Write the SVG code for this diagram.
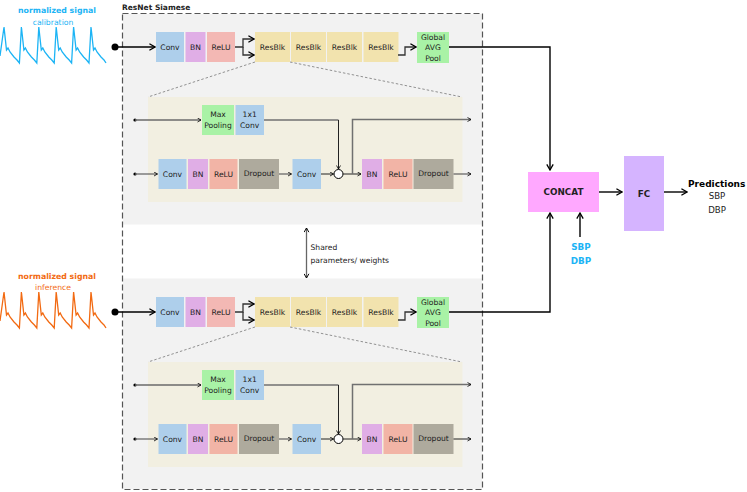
<svg xmlns="http://www.w3.org/2000/svg" width="747" height="492" viewBox="0 0 747 492">
<style>
text{font-family:"DejaVu Sans","Liberation Sans",sans-serif;fill:#222}
.lb{font-size:7.6px;text-anchor:middle}
.b{font-weight:bold}
.conv{fill:#aecfeb}
.bn{fill:#e0aee6}
.relu{fill:#f3b8b4}
.relu2{fill:#f2b4a6}
.res{fill:#f2e3ae}
.grn{fill:#a9f2a6}
.drop{fill:#aeaa9d}
.k{fill:none;stroke:#000;stroke-width:1.4}
.g{fill:none;stroke:#707070;stroke-width:1.5}
.s{fill:none;stroke:#222;stroke-width:1}
.sg{fill:none;stroke:#6a6a6a;stroke-width:1.3}
.dash{fill:none;stroke:#777;stroke-width:0.8;stroke-dasharray:2.5,2}
</style>
<defs>
<marker id="big" viewBox="0 0 10 10" refX="9" refY="5" markerWidth="8" markerHeight="8" markerUnits="userSpaceOnUse" orient="auto">
<path d="M2,1 L9,5 L2,9" fill="none" stroke="#000" stroke-width="1.6"/>
</marker>
<marker id="sm" viewBox="0 0 10 10" refX="9" refY="5" markerWidth="5" markerHeight="5" markerUnits="userSpaceOnUse" orient="auto">
<path d="M2,1 L9,5 L2,9" fill="none" stroke="#000" stroke-width="1.6"/>
</marker>
<marker id="mid" viewBox="0 0 10 10" refX="9" refY="5" markerWidth="6" markerHeight="6" markerUnits="userSpaceOnUse" orient="auto">
<path d="M2,1 L9,5 L2,9" fill="none" stroke="#000" stroke-width="1.6"/>
</marker>
<marker id="mids" viewBox="0 0 10 10" refX="1" refY="5" markerWidth="6" markerHeight="6" markerUnits="userSpaceOnUse" orient="auto">
<path d="M8,1 L1,5 L8,9" fill="none" stroke="#000" stroke-width="1.6"/>
</marker>
<path id="wave" d="M0,56 L4,27 L6.5,50 L8,48 L10,52 L14,57 L17,60 L19.4,63 L21.4,27 L23.9,50 L25.4,48 L27.4,52 L31.4,57 L34.4,60 L36.8,63 L38.8,27 L41.3,50 L42.8,48 L44.8,52 L48.8,57 L51.8,60 L54.2,63 L56.2,27 L58.7,50 L60.2,48 L62.2,52 L66.2,57 L69.2,60 L71.6,63 L73.6,27 L76.1,50 L77.6,48 L79.6,52 L83.6,57 L86.6,60 L89,63 L91,27 L93.5,50 L95,48 L97,52 L101,57 L104,60 L106,63"/>
</defs>

<g id="siamese-frame">
<rect x="123" y="14" width="359" height="210.5" fill="#f2f2f2"/>
<rect x="123" y="278.5" width="359" height="210.5" fill="#f2f2f2"/>
<rect x="122.5" y="13.5" width="360" height="476" fill="none" stroke="#555" stroke-width="1.2" stroke-dasharray="6,3"/>
<text x="122" y="10" class="b" style="font-size:7.5px">ResNet Siamese</text>
</g>

<g id="signal-calibration">
<text x="57" y="13" class="b" style="font-size:7.8px;text-anchor:middle;fill:#1cb4f5">normalized signal</text>
<text x="53" y="24.5" style="font-size:7.7px;text-anchor:middle;fill:#1cb4f5">calibration</text>
<use href="#wave" fill="none" stroke="#1cb4f5" stroke-width="1.3"/>
</g>
<g id="signal-inference">
<text x="57" y="278.5" class="b" style="font-size:7.8px;text-anchor:middle;fill:#f26a12">normalized signal</text>
<text x="53" y="290" style="font-size:7.7px;text-anchor:middle;fill:#f26a12">inference</text>
<use href="#wave" transform="translate(0,265)" fill="none" stroke="#f26a12" stroke-width="1.3"/>
</g>

<!-- Top branch -->
<g id="top-conv"><rect class="conv" x="156" y="32" width="28" height="30"/><text class="lb" x="170" y="50">Conv</text></g>
<g id="top-bn"><rect class="bn" x="185.5" y="32" width="20" height="30"/><text class="lb" x="195.5" y="50">BN</text></g>
<g id="top-relu"><rect class="relu" x="207" y="32" width="28" height="30"/><text class="lb" x="221" y="50">ReLU</text></g>
<g id="top-resblk1"><rect class="res" x="255" y="32" width="35" height="30"/><text class="lb" x="272.5" y="50">ResBlk</text></g>
<g id="top-resblk2"><rect class="res" x="291" y="32" width="35" height="30"/><text class="lb" x="308.5" y="50">ResBlk</text></g>
<g id="top-resblk3"><rect class="res" x="327" y="32" width="35" height="30"/><text class="lb" x="344.5" y="50">ResBlk</text></g>
<g id="top-resblk4"><rect class="res" x="363.5" y="32" width="35" height="30"/><text class="lb" x="381" y="50">ResBlk</text></g>
<g id="top-gap"><rect class="grn" x="417" y="32" width="32" height="31"/><text class="lb" x="433" y="39.5">Global</text><text class="lb" x="433" y="50">AVG</text><text class="lb" x="433" y="61">Pool</text></g>

<g id="top-resblk-detail">
<rect x="148" y="97" width="314.5" height="105" fill="#f2efe1"/>
<g id="top-maxpool"><rect class="grn" x="202" y="105" width="32" height="30"/><text class="lb" x="218" y="117">Max</text><text class="lb" x="218" y="128">Pooling</text></g>
<g id="top-conv1x1"><rect class="conv" x="235.5" y="105" width="28.5" height="30"/><text class="lb" x="249.7" y="117">1x1</text><text class="lb" x="249.7" y="128">Conv</text></g>
<g id="top-in-conv"><rect class="conv" x="158.5" y="159" width="28" height="30"/><text class="lb" x="172.5" y="177">Conv</text></g>
<g id="top-in-bn"><rect class="bn" x="188" y="159" width="20" height="30"/><text class="lb" x="198" y="177">BN</text></g>
<g id="top-in-relu"><rect class="relu2" x="209.5" y="159" width="28" height="30"/><text class="lb" x="223.5" y="177">ReLU</text></g>
<g id="top-in-dropout"><rect class="drop" x="239" y="159" width="40" height="30"/><text class="lb" x="259" y="175.5">Dropout</text></g>
<g id="top-in-conv2"><rect class="conv" x="292.5" y="159" width="28.5" height="30"/><text class="lb" x="306.7" y="177">Conv</text></g>
<g id="top-in-add"><circle cx="338.5" cy="174" r="4.5" fill="#fff" stroke="#000" stroke-width="1"/></g>
<g id="top-in-bn2"><rect class="bn" x="362" y="159" width="20" height="30"/><text class="lb" x="372" y="177">BN</text></g>
<g id="top-in-relu2"><rect class="relu2" x="383.5" y="159" width="29" height="30"/><text class="lb" x="398" y="177">ReLU</text></g>
<g id="top-in-dropout2"><rect class="drop" x="413.5" y="159" width="40" height="30"/><text class="lb" x="433.5" y="175.5">Dropout</text></g>
</g>

<!-- Bottom branch -->
<g transform="translate(0,265)">
<g id="bot-conv"><rect class="conv" x="156" y="32" width="28" height="30"/><text class="lb" x="170" y="50">Conv</text></g>
<g id="bot-bn"><rect class="bn" x="185.5" y="32" width="20" height="30"/><text class="lb" x="195.5" y="50">BN</text></g>
<g id="bot-relu"><rect class="relu" x="207" y="32" width="28" height="30"/><text class="lb" x="221" y="50">ReLU</text></g>
<g id="bot-resblk1"><rect class="res" x="255" y="32" width="35" height="30"/><text class="lb" x="272.5" y="50">ResBlk</text></g>
<g id="bot-resblk2"><rect class="res" x="291" y="32" width="35" height="30"/><text class="lb" x="308.5" y="50">ResBlk</text></g>
<g id="bot-resblk3"><rect class="res" x="327" y="32" width="35" height="30"/><text class="lb" x="344.5" y="50">ResBlk</text></g>
<g id="bot-resblk4"><rect class="res" x="363.5" y="32" width="35" height="30"/><text class="lb" x="381" y="50">ResBlk</text></g>
<g id="bot-gap"><rect class="grn" x="417" y="32" width="32" height="31"/><text class="lb" x="433" y="39.5">Global</text><text class="lb" x="433" y="50">AVG</text><text class="lb" x="433" y="61">Pool</text></g>
<g id="bot-resblk-detail">
<rect x="148" y="97" width="314.5" height="105" fill="#f2efe1"/>
<g id="bot-maxpool"><rect class="grn" x="202" y="105" width="32" height="30"/><text class="lb" x="218" y="117">Max</text><text class="lb" x="218" y="128">Pooling</text></g>
<g id="bot-conv1x1"><rect class="conv" x="235.5" y="105" width="28.5" height="30"/><text class="lb" x="249.7" y="117">1x1</text><text class="lb" x="249.7" y="128">Conv</text></g>
<g id="bot-in-conv"><rect class="conv" x="158.5" y="159" width="28" height="30"/><text class="lb" x="172.5" y="177">Conv</text></g>
<g id="bot-in-bn"><rect class="bn" x="188" y="159" width="20" height="30"/><text class="lb" x="198" y="177">BN</text></g>
<g id="bot-in-relu"><rect class="relu2" x="209.5" y="159" width="28" height="30"/><text class="lb" x="223.5" y="177">ReLU</text></g>
<g id="bot-in-dropout"><rect class="drop" x="239" y="159" width="40" height="30"/><text class="lb" x="259" y="175.5">Dropout</text></g>
<g id="bot-in-conv2"><rect class="conv" x="292.5" y="159" width="28.5" height="30"/><text class="lb" x="306.7" y="177">Conv</text></g>
<g id="bot-in-add"><circle cx="338.5" cy="174" r="4.5" fill="#fff" stroke="#000" stroke-width="1"/></g>
<g id="bot-in-bn2"><rect class="bn" x="362" y="159" width="20" height="30"/><text class="lb" x="372" y="177">BN</text></g>
<g id="bot-in-relu2"><rect class="relu2" x="383.5" y="159" width="29" height="30"/><text class="lb" x="398" y="177">ReLU</text></g>
<g id="bot-in-dropout2"><rect class="drop" x="413.5" y="159" width="40" height="30"/><text class="lb" x="433.5" y="175.5">Dropout</text></g>
</g>
</g>

<g id="concat"><rect x="528" y="172" width="71" height="40" fill="#ffa8ff"/><text x="563.5" y="195" class="b" style="font-size:8.8px;text-anchor:middle">CONCAT</text></g>
<g id="fc"><rect x="624" y="156" width="40" height="75" fill="#d5b4ff"/><text x="644" y="196.5" class="b" style="font-size:8.8px;text-anchor:middle">FC</text></g>
<g id="predictions">
<text x="688" y="187" class="b" style="font-size:9px;fill:#000">Predictions</text>
<text x="717" y="199" style="font-size:8.6px;text-anchor:middle">SBP</text>
<text x="717" y="213" style="font-size:8.6px;text-anchor:middle">DBP</text>
</g>
<g id="sbp-dbp-input">
<text x="581" y="250" class="b" style="font-size:8.8px;text-anchor:middle;fill:#1cb4f5">SBP</text>
<text x="581" y="264" class="b" style="font-size:8.8px;text-anchor:middle;fill:#1cb4f5">DBP</text>
</g>
<g id="shared-label">
<text x="310.5" y="250" style="font-size:7.6px">Shared</text>
<text x="310.5" y="262.5" style="font-size:7.6px">parameters/ weights</text>
</g>

<g id="connectors">
<!-- main top -->
<circle cx="115" cy="47" r="3.5" fill="#000"/>
<path class="k" d="M115,47 H155" marker-end="url(#big)"/>
<path class="k" d="M235,47 H243 V39 H254" marker-end="url(#big)" style="stroke:#333;stroke-width:1.3"/>
<path class="k" d="M243,47 V55 H254" marker-end="url(#big)" style="stroke:#333;stroke-width:1.3"/>
<path class="k" d="M398,55 H405 V47 H416" marker-end="url(#big)" style="stroke:#333;stroke-width:1.3"/>
<path class="k" d="M449,47 H550 V170" marker-end="url(#big)"/>
<path class="dash" d="M255,62 L148,97 M290,62 L462,97"/>
<!-- inner top -->
<circle cx="135" cy="120" r="1.6" fill="#000"/>
<path class="sg" d="M135,120 H201" marker-end="url(#sm)"/>
<path class="g" d="M264,120 H338.5"/>
<path class="s" d="M338.5,120 V169" marker-end="url(#sm)"/>
<circle cx="135" cy="174" r="1.6" fill="#000"/>
<path class="sg" d="M135,174 H157.5" marker-end="url(#sm)"/>
<path class="sg" d="M279,174 H291.5" marker-end="url(#sm)"/>
<path class="s" d="M321,174 H333.5" marker-end="url(#sm)"/>
<path class="s" d="M343,174 H361" marker-end="url(#sm)"/>
<path class="g" d="M352.5,174 V119.5 H471" marker-end="url(#sm)"/>
<path class="sg" d="M453.5,174 H471" marker-end="url(#sm)"/>
<!-- main bottom -->
<circle cx="115" cy="312" r="3.5" fill="#000"/>
<path class="k" d="M115,312 H155" marker-end="url(#big)"/>
<path class="k" d="M235,312 H243 V304 H254" marker-end="url(#big)" style="stroke:#333;stroke-width:1.3"/>
<path class="k" d="M243,312 V320 H254" marker-end="url(#big)" style="stroke:#333;stroke-width:1.3"/>
<path class="k" d="M398,320 H405 V312 H416" marker-end="url(#big)" style="stroke:#333;stroke-width:1.3"/>
<path class="k" d="M449,312 H550 V213" marker-end="url(#big)"/>
<path class="dash" d="M255,327 L148,362 M290,327 L462,362"/>
<!-- inner bottom -->
<circle cx="135" cy="385" r="1.6" fill="#000"/>
<path class="sg" d="M135,385 H201" marker-end="url(#sm)"/>
<path class="g" d="M264,385 H338.5"/>
<path class="s" d="M338.5,385 V434" marker-end="url(#sm)"/>
<circle cx="135" cy="439" r="1.6" fill="#000"/>
<path class="sg" d="M135,439 H157.5" marker-end="url(#sm)"/>
<path class="sg" d="M279,439 H291.5" marker-end="url(#sm)"/>
<path class="s" d="M321,439 H333.5" marker-end="url(#sm)"/>
<path class="s" d="M343,439 H361" marker-end="url(#sm)"/>
<path class="g" d="M352.5,439 V384.5 H471" marker-end="url(#sm)"/>
<path class="s" d="M453.5,439 H471" marker-end="url(#sm)"/>
<!-- right side -->
<path class="k" d="M599,192 H622" marker-end="url(#big)"/>
<path class="k" d="M664,192 H687" marker-end="url(#big)"/>
<path class="k" d="M580,237 V213" marker-end="url(#big)"/>
<!-- shared -->
<path class="g" d="M306.5,228 V278" marker-start="url(#mids)" marker-end="url(#mid)" style="stroke:#666;stroke-width:1.3"/>
</g>
</svg>
